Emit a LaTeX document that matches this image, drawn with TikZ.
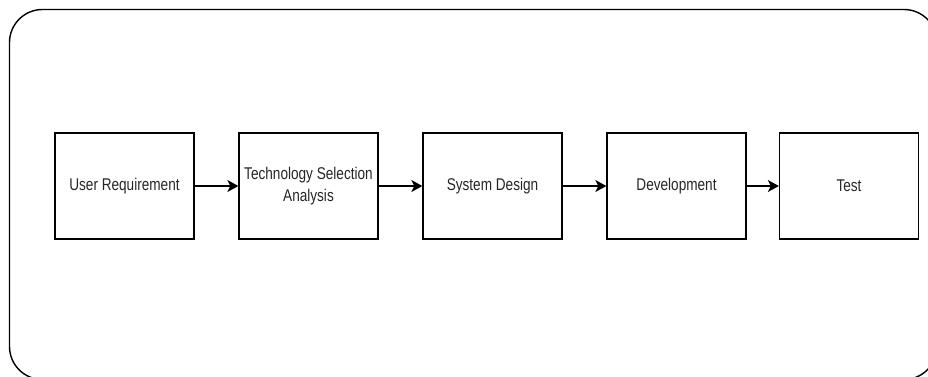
\documentclass[tikz,border=0pt]{standalone}
\usepackage{fontspec}
\setmainfont{Liberation Sans}[FakeStretch=0.8]
\usetikzlibrary{arrows.meta}
\definecolor{txt}{HTML}{262626}
\begin{document}
\begin{tikzpicture}[x=1pt,y=-1pt,
  stage/.style={draw=black, line width=1.3pt, minimum width=139pt, minimum height=106pt,
    inner sep=0pt, align=center, text=txt, font=\fontsize{17}{22}\selectfont},
  flow/.style={line width=1.3pt, -{Stealth[length=11pt,width=12pt,inset=3pt]}}]
\useasboundingbox (0,0) rectangle (928,376);
\begin{scope}
\clip (0,0) rectangle (928,376);
\draw[line width=1.4pt, rounded corners=33pt] (9.5,9.5) rectangle (937,379.5);
\end{scope}
\node[stage] (ur) at (124.5,186) {User Requirement};
\node[stage] (tsa) at (308.5,186) {Technology Selection\\Analysis};
\node[stage] (sd) at (492.5,186) {System Design};
\node[stage] (dev) at (676.5,186) {Development};
\node[stage] (test) at (849,186) {Test};
\draw[flow] (ur) -- (tsa);
\draw[flow] (tsa) -- (sd);
\draw[flow] (sd) -- (dev);
\draw[flow] (dev) -- (test);
\end{tikzpicture}
\end{document}
